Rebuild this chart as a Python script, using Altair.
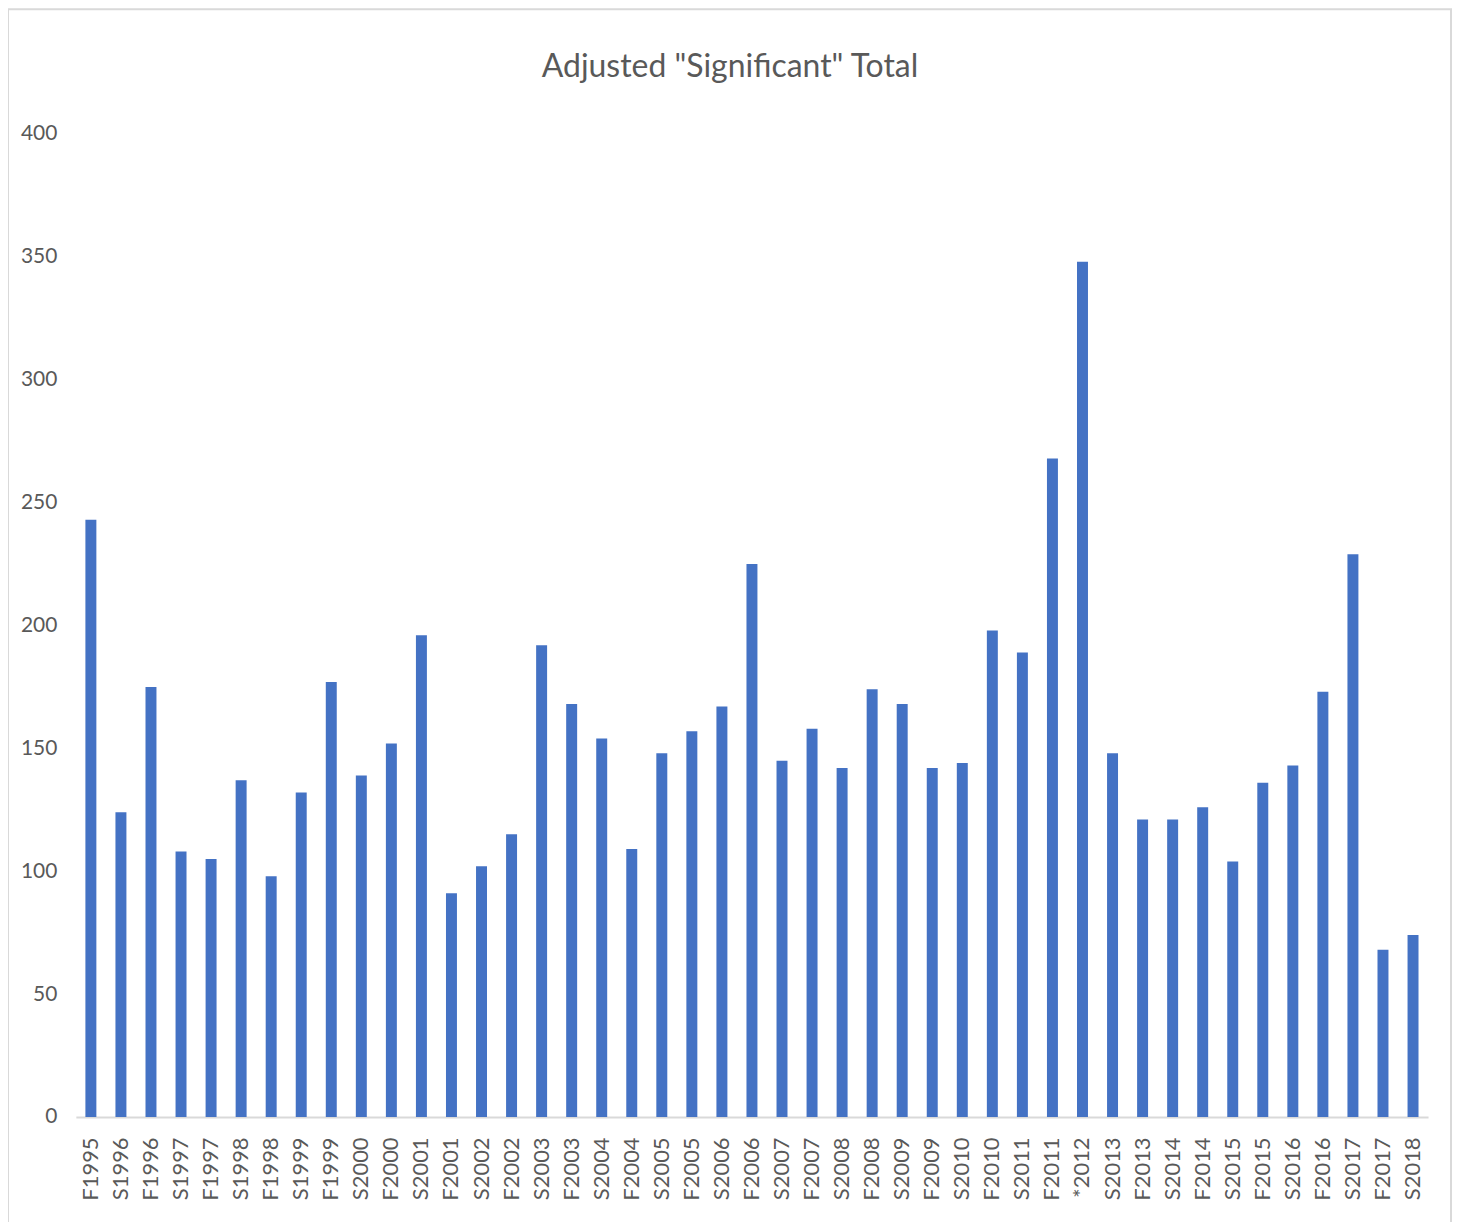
import altair as alt
import pandas as pd

categories = ["F1995", "S1996", "F1996", "S1997", "F1997", "S1998", "F1998", "S1999", "F1999",
              "S2000", "F2000", "S2001", "F2001", "S2002", "F2002", "S2003", "F2003", "S2004",
              "F2004", "S2005", "F2005", "S2006", "F2006", "S2007", "F2007", "S2008", "F2008",
              "S2009", "F2009", "S2010", "F2010", "S2011", "F2011", "*2012", "S2013", "F2013",
              "S2014", "F2014", "S2015", "F2015", "S2016", "F2016", "S2017", "F2017", "S2018"]
values = [243, 124, 175, 108, 105, 137, 98, 132, 177,
          139, 152, 196, 91, 102, 115, 192, 168, 154,
          109, 148, 157, 167, 225, 145, 158, 142, 174,
          168, 142, 144, 198, 189, 268, 348, 148, 121,
          121, 126, 104, 136, 143, 173, 229, 68, 74]
y_ticks = [0, 50, 100, 150, 200, 250, 300, 350, 400]

df = pd.DataFrame({"cat": categories, "val": values})

FONT = "Lato"
GRAY = "#595959"

bars = alt.Chart(df).mark_bar(color="#4472C4").encode(
    x=alt.X("cat:N", sort=categories, title=None,
            scale=alt.Scale(paddingInner=0.635, paddingOuter=0.3175),
            axis=alt.Axis(labelAngle=-90, labelFontSize=22, labelFont=FONT, labelColor=GRAY,
                          labelPadding=20, ticks=False, domainColor="#D9D9D9", domainWidth=2,
                          labelBaseline="middle")),
    y=alt.Y("val:Q", title=None,
            scale=alt.Scale(domain=[0, 400], nice=False),
            axis=alt.Axis(values=y_ticks, labelFontSize=21, labelFont=FONT, labelColor=GRAY,
                          labelPadding=19, ticks=False, domain=False, grid=False)),
)

border = alt.Chart(pd.DataFrame({"b": [0]})).mark_rect(
    fill="transparent", stroke="#D9D9D9", strokeWidth=2
).encode(
    x=alt.value(-68), x2=alt.value(1378), y=alt.value(-125), y2=alt.value(1094)
)

chart = alt.layer(border, bars).properties(
    width=1355, height=985,
    background="white",
    title=alt.TitleParams('Adjusted "Significant" Total', font=FONT, fontSize=32,
                          fontWeight="normal", color=GRAY, offset=-76,
                          frame="group", anchor="middle", dx=-22),
    autosize=alt.AutoSizeParams(type="none"),
    padding={"left": 68, "top": 125, "right": 25, "bottom": 104},
).configure_view(stroke="transparent", strokeWidth=0)

chart.save("out.html", embed_options={"renderer": "svg", "actions": False})
